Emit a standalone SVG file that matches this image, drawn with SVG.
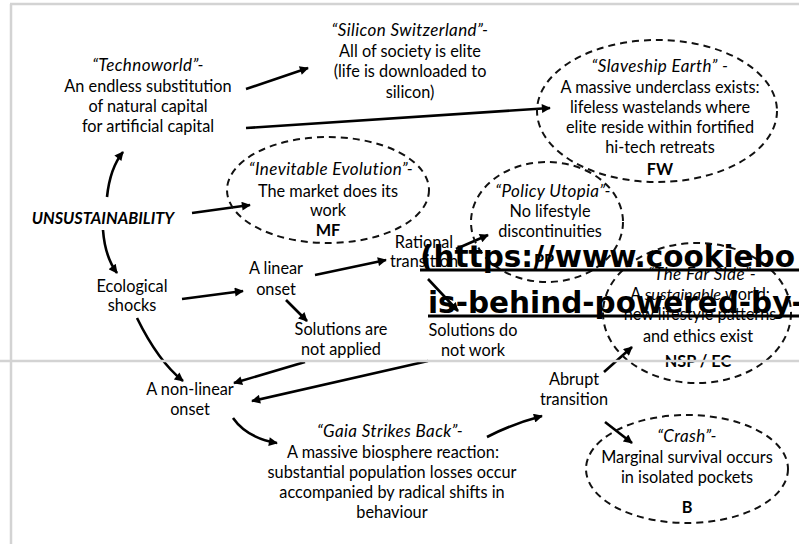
<svg xmlns="http://www.w3.org/2000/svg" width="799" height="544" viewBox="0 0 799 544">
<defs>
<style>
.t{font-family:Lato,"Liberation Sans",sans-serif;font-size:16.3px;fill:#000;text-anchor:middle}
.i{font-style:italic}
.h{font-style:italic;font-size:17px;letter-spacing:0.4px}
.b{font-weight:bold}
.ell{fill:none;stroke:#111;stroke-width:2;stroke-dasharray:7 5}
.c{fill:none;stroke:#000;stroke-width:2.6;marker-end:url(#ah)}
.frame{stroke:#d3d3d3;stroke-width:2.5;fill:none}
.wm{font-family:"DejaVu Sans",sans-serif;font-weight:bold;font-size:29.5px;fill:#000}
.ul{stroke:#000;stroke-width:3}
</style>
<marker id="ah" viewBox="0 0 10 10" refX="9" refY="5" markerWidth="11" markerHeight="9" markerUnits="userSpaceOnUse" orient="auto"><path d="M0,0 L10,5 L0,10 z" fill="#000"/></marker>
</defs>
<rect width="799" height="544" fill="#fff"/>

<g id="connectors">
<path class="c" d="M246,89 L308,68"/>
<path class="c" d="M246,128 L550,108"/>
<path class="c" d="M107,197 Q110,168 123,152"/>
<path class="c" d="M192,213 L250,205"/>
<path class="c" d="M103,230 Q105,257 117,273"/>
<path class="c" d="M182,299 L243,291"/>
<path class="c" d="M315,275 L386,260"/>
<path class="c" d="M286,300 L307,321"/>
<path class="c" d="M456,249 L488,235"/>
<path class="c" d="M428,279 L458,311"/>
<path class="c" d="M305,362 L234,383"/>
<path class="c" d="M428,361 L252,401"/>
<path class="c" d="M137,318 Q158,361 183,381"/>
<path class="c" d="M233,418 Q247,438 277,443"/>
<path class="c" d="M487,437 Q512,424 542,416"/>
<path class="c" d="M604,372 L632,347"/>
<path class="c" d="M605,422 L632,443"/>
</g>

<g id="technoworld">
<text class="t h" x="148" y="71">“Technoworld”-</text>
<text class="t" x="148" y="92">An endless substitution</text>
<text class="t" x="148" y="112">of natural capital</text>
<text class="t" x="148" y="132">for artificial capital</text>
</g>

<g id="silicon">
<text class="t h" x="410" y="36">“Silicon Switzerland”-</text>
<text class="t" x="410" y="57">All of society is elite</text>
<text class="t" x="410" y="77">(life is downloaded to</text>
<text class="t" x="410" y="98">silicon)</text>
</g>

<g id="slaveship">
<ellipse class="ell" cx="657" cy="111" rx="120" ry="71"/>
<text class="t h" x="660" y="72">“Slaveship Earth” -</text>
<text class="t" x="660" y="93">A massive underclass exists:</text>
<text class="t" x="660" y="113">lifeless wastelands where</text>
<text class="t" x="660" y="133">elite reside within fortified</text>
<text class="t" x="660" y="153">hi-tech retreats</text>
<text class="t b" x="660" y="175">FW</text>
</g>

<g id="inevitable">
<ellipse class="ell" cx="328" cy="190" rx="101" ry="53"/>
<text class="t h" x="331" y="175">“Inevitable Evolution”-</text>
<text class="t" x="328" y="197">The market does its</text>
<text class="t" x="328" y="216">work</text>
<text class="t b" x="328" y="236">MF</text>
</g>

<g id="unsustainability">
<text class="t i b" x="103" y="224">UNSUSTAINABILITY</text>
</g>

<g id="policy">
<ellipse class="ell" cx="547" cy="222" rx="76" ry="60"/>
<text class="t h" x="553" y="197">“Policy Utopia”-</text>
<text class="t" x="550" y="217">No lifestyle</text>
<text class="t" x="550" y="237">discontinuities</text>
<text class="t b" x="544" y="266">PP</text>
</g>

<g id="farside">
<ellipse class="ell" cx="697" cy="313" rx="94" ry="70"/>
<text class="t h" x="702" y="280">“The Far Side”-</text>
<text class="t" x="700" y="300">A <tspan class="i">sustainable</tspan> world:</text>
<text class="t" x="700" y="320">new lifestyle patterns</text>
<text class="t" x="698" y="342">and ethics exist</text>
<text class="t b" x="698" y="367">NSP / EC</text>
</g>

<g id="crash">
<ellipse class="ell" cx="687" cy="469" rx="101" ry="54"/>
<text class="t h" x="687" y="442">“Crash”-</text>
<text class="t" x="687" y="463">Marginal survival occurs</text>
<text class="t" x="687" y="483">in isolated pockets</text>
<text class="t b" x="687" y="513">B</text>
</g>

<g id="ecological">
<text class="t" x="132" y="292">Ecological</text>
<text class="t" x="132" y="311">shocks</text>
</g>

<g id="linear">
<text class="t" x="276" y="274">A linear</text>
<text class="t" x="276" y="295">onset</text>
</g>

<g id="rational">
<text class="t" x="424" y="248">Rational</text>
<text class="t" x="424" y="267">transition</text>
</g>

<g id="notapplied">
<text class="t" x="341" y="335">Solutions are</text>
<text class="t" x="341" y="355">not applied</text>
</g>

<g id="notwork">
<text class="t" x="473" y="336">Solutions do</text>
<text class="t" x="473" y="356">not work</text>
</g>

<g id="nonlinear">
<text class="t" x="190" y="395">A non-linear</text>
<text class="t" x="190" y="415">onset</text>
</g>

<g id="gaia">
<text class="t h" x="390" y="437">“Gaia Strikes Back”-</text>
<text class="t" x="393" y="458">A massive biosphere reaction:</text>
<text class="t" x="392" y="478">substantial population losses occur</text>
<text class="t" x="392" y="498">accompanied by radical shifts in</text>
<text class="t" x="392" y="518">behaviour</text>
</g>

<g id="abrupt">
<text class="t" x="574" y="385">Abrupt</text>
<text class="t" x="574" y="405">transition</text>
</g>

<g id="frame">
<path class="frame" d="M10,4 H799 M11,4 V544 M0,361 H799"/>
</g>

<g id="watermark">
<text class="wm" x="420" y="267">(https://www.cookiebo</text>
<text class="wm" x="428" y="313">is-behind-powered-by-</text>
<line class="ul" x1="420" y1="270" x2="799" y2="270"/>
<line class="ul" x1="428" y1="316" x2="799" y2="316"/>
</g>
</svg>
